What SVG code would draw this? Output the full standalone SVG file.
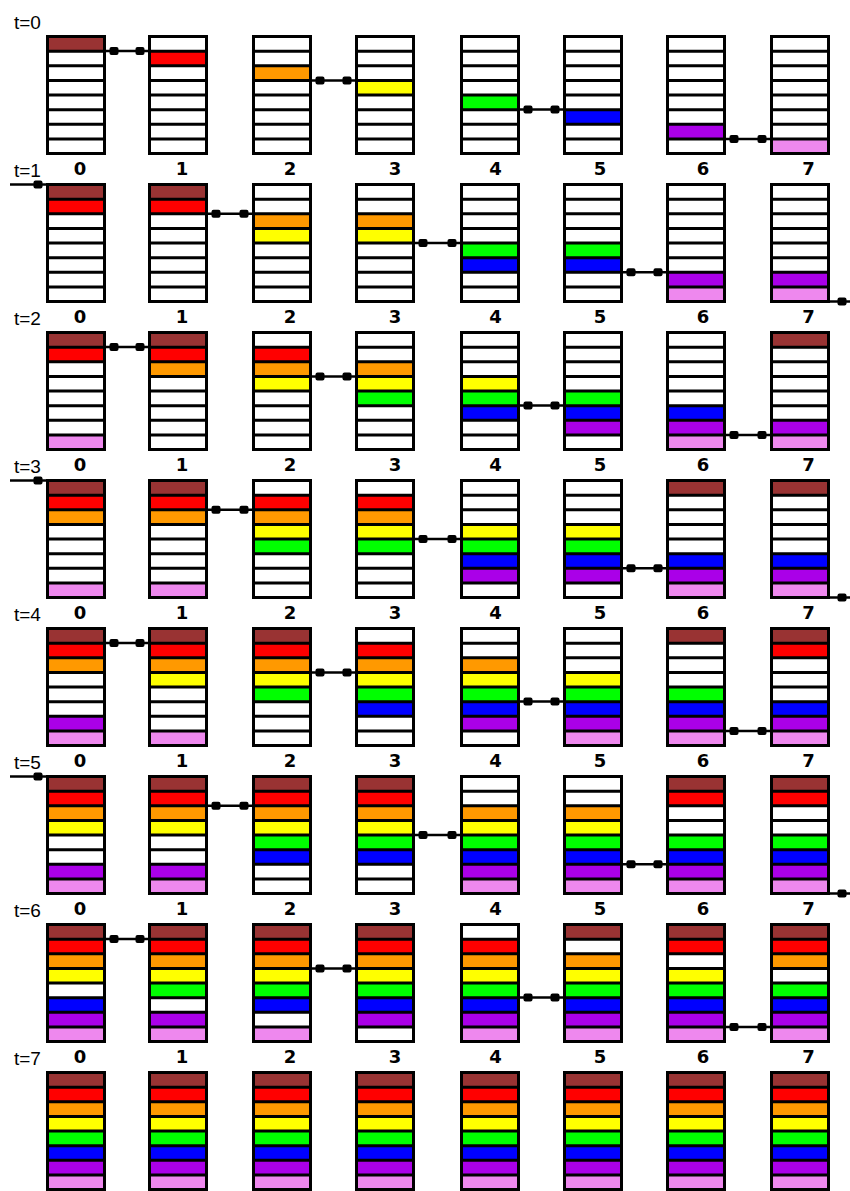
<svg xmlns="http://www.w3.org/2000/svg" xmlns:xlink="http://www.w3.org/1999/xlink" width="850" height="1191" viewBox="0 0 850 1191">
<style>
.tl{font-family:"Liberation Sans",Arial,sans-serif;font-size:19px;fill:#000}
.nl{font-family:"DejaVu Sans","Liberation Sans",sans-serif;font-size:18px;font-weight:bold;fill:#000;text-anchor:middle}
.cn{stroke:#000;stroke-width:2.5;fill:none;marker-start:url(#sq);marker-end:url(#sq)}
.ce{stroke:#000;stroke-width:2.5;fill:none;marker-end:url(#sq)}
</style>
<defs>
<marker id="sq" viewBox="-14 -5 14 10" markerWidth="14" markerHeight="10" refX="0" refY="0" orient="auto-start-reverse" markerUnits="userSpaceOnUse"><rect x="-12.5" y="-4" width="9" height="8" rx="2" fill="#000"/></marker>
<rect id="k0" x="1.5" y="1.5" width="57" height="14.625" fill="#993333"/>
<rect id="k1" x="1.5" y="16.125" width="57" height="14.625" fill="#ff0000"/>
<rect id="k2" x="1.5" y="30.75" width="57" height="14.625" fill="#ff9900"/>
<rect id="k3" x="1.5" y="45.375" width="57" height="14.625" fill="#ffff00"/>
<rect id="k4" x="1.5" y="60" width="57" height="14.625" fill="#00ff00"/>
<rect id="k5" x="1.5" y="74.625" width="57" height="14.625" fill="#0000ff"/>
<rect id="k6" x="1.5" y="89.25" width="57" height="14.625" fill="#aa00e8"/>
<rect id="k7" x="1.5" y="103.875" width="57" height="14.625" fill="#ee88ee"/>
<g id="f" fill="none" stroke="#000" stroke-width="3"><rect x="1.5" y="1.5" width="57" height="117"/><path d="M1.5 16.125H58.5M1.5 30.75H58.5M1.5 45.375H58.5M1.5 60H58.5M1.5 74.625H58.5M1.5 89.25H58.5M1.5 103.875H58.5"/></g>
</defs>
<rect width="850" height="1191" fill="#fff"/>
<g id="labels">
<text class="tl" x="14" y="29">t=0</text>
<text class="tl" x="14" y="177">t=1</text>
<text class="tl" x="14" y="325">t=2</text>
<text class="tl" x="14" y="473">t=3</text>
<text class="tl" x="14" y="621">t=4</text>
<text class="tl" x="14" y="769">t=5</text>
<text class="tl" x="14" y="917">t=6</text>
<text class="tl" x="14" y="1065">t=7</text>
<g id="nums0"><text class="nl" x="80" y="175">0</text><text class="nl" x="182" y="175">1</text><text class="nl" x="290" y="175">2</text><text class="nl" x="395" y="175">3</text><text class="nl" x="495.5" y="175">4</text><text class="nl" x="600" y="175">5</text><text class="nl" x="703" y="175">6</text><text class="nl" x="808.5" y="175">7</text></g>
<g id="nums1"><text class="nl" x="80" y="323">0</text><text class="nl" x="182" y="323">1</text><text class="nl" x="290" y="323">2</text><text class="nl" x="395" y="323">3</text><text class="nl" x="495.5" y="323">4</text><text class="nl" x="600" y="323">5</text><text class="nl" x="703" y="323">6</text><text class="nl" x="808.5" y="323">7</text></g>
<g id="nums2"><text class="nl" x="80" y="471">0</text><text class="nl" x="182" y="471">1</text><text class="nl" x="290" y="471">2</text><text class="nl" x="395" y="471">3</text><text class="nl" x="495.5" y="471">4</text><text class="nl" x="600" y="471">5</text><text class="nl" x="703" y="471">6</text><text class="nl" x="808.5" y="471">7</text></g>
<g id="nums3"><text class="nl" x="80" y="619">0</text><text class="nl" x="182" y="619">1</text><text class="nl" x="290" y="619">2</text><text class="nl" x="395" y="619">3</text><text class="nl" x="495.5" y="619">4</text><text class="nl" x="600" y="619">5</text><text class="nl" x="703" y="619">6</text><text class="nl" x="808.5" y="619">7</text></g>
<g id="nums4"><text class="nl" x="80" y="767">0</text><text class="nl" x="182" y="767">1</text><text class="nl" x="290" y="767">2</text><text class="nl" x="395" y="767">3</text><text class="nl" x="495.5" y="767">4</text><text class="nl" x="600" y="767">5</text><text class="nl" x="703" y="767">6</text><text class="nl" x="808.5" y="767">7</text></g>
<g id="nums5"><text class="nl" x="80" y="915">0</text><text class="nl" x="182" y="915">1</text><text class="nl" x="290" y="915">2</text><text class="nl" x="395" y="915">3</text><text class="nl" x="495.5" y="915">4</text><text class="nl" x="600" y="915">5</text><text class="nl" x="703" y="915">6</text><text class="nl" x="808.5" y="915">7</text></g>
<g id="nums6"><text class="nl" x="80" y="1063">0</text><text class="nl" x="182" y="1063">1</text><text class="nl" x="290" y="1063">2</text><text class="nl" x="395" y="1063">3</text><text class="nl" x="495.5" y="1063">4</text><text class="nl" x="600" y="1063">5</text><text class="nl" x="703" y="1063">6</text><text class="nl" x="808.5" y="1063">7</text></g>
</g>
<!-- t=0 -->
<g id="n0_0" transform="translate(46,35)"><use href="#k0"/><use href="#f"/></g>
<g id="n0_1" transform="translate(148,35)"><use href="#k1"/><use href="#f"/></g>
<g id="n0_2" transform="translate(252,35)"><use href="#k2"/><use href="#f"/></g>
<g id="n0_3" transform="translate(355,35)"><use href="#k3"/><use href="#f"/></g>
<g id="n0_4" transform="translate(460,35)"><use href="#k4"/><use href="#f"/></g>
<g id="n0_5" transform="translate(563,35)"><use href="#k5"/><use href="#f"/></g>
<g id="n0_6" transform="translate(666,35)"><use href="#k6"/><use href="#f"/></g>
<g id="n0_7" transform="translate(770,35)"><use href="#k7"/><use href="#f"/></g>
<!-- t=1 -->
<g id="n1_0" transform="translate(46,183)"><use href="#k0"/><use href="#k1"/><use href="#f"/></g>
<g id="n1_1" transform="translate(148,183)"><use href="#k0"/><use href="#k1"/><use href="#f"/></g>
<g id="n1_2" transform="translate(252,183)"><use href="#k2"/><use href="#k3"/><use href="#f"/></g>
<g id="n1_3" transform="translate(355,183)"><use href="#k2"/><use href="#k3"/><use href="#f"/></g>
<g id="n1_4" transform="translate(460,183)"><use href="#k4"/><use href="#k5"/><use href="#f"/></g>
<g id="n1_5" transform="translate(563,183)"><use href="#k4"/><use href="#k5"/><use href="#f"/></g>
<g id="n1_6" transform="translate(666,183)"><use href="#k6"/><use href="#k7"/><use href="#f"/></g>
<g id="n1_7" transform="translate(770,183)"><use href="#k6"/><use href="#k7"/><use href="#f"/></g>
<!-- t=2 -->
<g id="n2_0" transform="translate(46,331)"><use href="#k0"/><use href="#k1"/><use href="#k7"/><use href="#f"/></g>
<g id="n2_1" transform="translate(148,331)"><use href="#k0"/><use href="#k1"/><use href="#k2"/><use href="#f"/></g>
<g id="n2_2" transform="translate(252,331)"><use href="#k1"/><use href="#k2"/><use href="#k3"/><use href="#f"/></g>
<g id="n2_3" transform="translate(355,331)"><use href="#k2"/><use href="#k3"/><use href="#k4"/><use href="#f"/></g>
<g id="n2_4" transform="translate(460,331)"><use href="#k3"/><use href="#k4"/><use href="#k5"/><use href="#f"/></g>
<g id="n2_5" transform="translate(563,331)"><use href="#k4"/><use href="#k5"/><use href="#k6"/><use href="#f"/></g>
<g id="n2_6" transform="translate(666,331)"><use href="#k5"/><use href="#k6"/><use href="#k7"/><use href="#f"/></g>
<g id="n2_7" transform="translate(770,331)"><use href="#k0"/><use href="#k6"/><use href="#k7"/><use href="#f"/></g>
<!-- t=3 -->
<g id="n3_0" transform="translate(46,479)"><use href="#k0"/><use href="#k1"/><use href="#k2"/><use href="#k7"/><use href="#f"/></g>
<g id="n3_1" transform="translate(148,479)"><use href="#k0"/><use href="#k1"/><use href="#k2"/><use href="#k7"/><use href="#f"/></g>
<g id="n3_2" transform="translate(252,479)"><use href="#k1"/><use href="#k2"/><use href="#k3"/><use href="#k4"/><use href="#f"/></g>
<g id="n3_3" transform="translate(355,479)"><use href="#k1"/><use href="#k2"/><use href="#k3"/><use href="#k4"/><use href="#f"/></g>
<g id="n3_4" transform="translate(460,479)"><use href="#k3"/><use href="#k4"/><use href="#k5"/><use href="#k6"/><use href="#f"/></g>
<g id="n3_5" transform="translate(563,479)"><use href="#k3"/><use href="#k4"/><use href="#k5"/><use href="#k6"/><use href="#f"/></g>
<g id="n3_6" transform="translate(666,479)"><use href="#k0"/><use href="#k5"/><use href="#k6"/><use href="#k7"/><use href="#f"/></g>
<g id="n3_7" transform="translate(770,479)"><use href="#k0"/><use href="#k5"/><use href="#k6"/><use href="#k7"/><use href="#f"/></g>
<!-- t=4 -->
<g id="n4_0" transform="translate(46,627)"><use href="#k0"/><use href="#k1"/><use href="#k2"/><use href="#k6"/><use href="#k7"/><use href="#f"/></g>
<g id="n4_1" transform="translate(148,627)"><use href="#k0"/><use href="#k1"/><use href="#k2"/><use href="#k3"/><use href="#k7"/><use href="#f"/></g>
<g id="n4_2" transform="translate(252,627)"><use href="#k0"/><use href="#k1"/><use href="#k2"/><use href="#k3"/><use href="#k4"/><use href="#f"/></g>
<g id="n4_3" transform="translate(355,627)"><use href="#k1"/><use href="#k2"/><use href="#k3"/><use href="#k4"/><use href="#k5"/><use href="#f"/></g>
<g id="n4_4" transform="translate(460,627)"><use href="#k2"/><use href="#k3"/><use href="#k4"/><use href="#k5"/><use href="#k6"/><use href="#f"/></g>
<g id="n4_5" transform="translate(563,627)"><use href="#k3"/><use href="#k4"/><use href="#k5"/><use href="#k6"/><use href="#k7"/><use href="#f"/></g>
<g id="n4_6" transform="translate(666,627)"><use href="#k0"/><use href="#k4"/><use href="#k5"/><use href="#k6"/><use href="#k7"/><use href="#f"/></g>
<g id="n4_7" transform="translate(770,627)"><use href="#k0"/><use href="#k1"/><use href="#k5"/><use href="#k6"/><use href="#k7"/><use href="#f"/></g>
<!-- t=5 -->
<g id="n5_0" transform="translate(46,775)"><use href="#k0"/><use href="#k1"/><use href="#k2"/><use href="#k3"/><use href="#k6"/><use href="#k7"/><use href="#f"/></g>
<g id="n5_1" transform="translate(148,775)"><use href="#k0"/><use href="#k1"/><use href="#k2"/><use href="#k3"/><use href="#k6"/><use href="#k7"/><use href="#f"/></g>
<g id="n5_2" transform="translate(252,775)"><use href="#k0"/><use href="#k1"/><use href="#k2"/><use href="#k3"/><use href="#k4"/><use href="#k5"/><use href="#f"/></g>
<g id="n5_3" transform="translate(355,775)"><use href="#k0"/><use href="#k1"/><use href="#k2"/><use href="#k3"/><use href="#k4"/><use href="#k5"/><use href="#f"/></g>
<g id="n5_4" transform="translate(460,775)"><use href="#k2"/><use href="#k3"/><use href="#k4"/><use href="#k5"/><use href="#k6"/><use href="#k7"/><use href="#f"/></g>
<g id="n5_5" transform="translate(563,775)"><use href="#k2"/><use href="#k3"/><use href="#k4"/><use href="#k5"/><use href="#k6"/><use href="#k7"/><use href="#f"/></g>
<g id="n5_6" transform="translate(666,775)"><use href="#k0"/><use href="#k1"/><use href="#k4"/><use href="#k5"/><use href="#k6"/><use href="#k7"/><use href="#f"/></g>
<g id="n5_7" transform="translate(770,775)"><use href="#k0"/><use href="#k1"/><use href="#k4"/><use href="#k5"/><use href="#k6"/><use href="#k7"/><use href="#f"/></g>
<!-- t=6 -->
<g id="n6_0" transform="translate(46,923)"><use href="#k0"/><use href="#k1"/><use href="#k2"/><use href="#k3"/><use href="#k5"/><use href="#k6"/><use href="#k7"/><use href="#f"/></g>
<g id="n6_1" transform="translate(148,923)"><use href="#k0"/><use href="#k1"/><use href="#k2"/><use href="#k3"/><use href="#k4"/><use href="#k6"/><use href="#k7"/><use href="#f"/></g>
<g id="n6_2" transform="translate(252,923)"><use href="#k0"/><use href="#k1"/><use href="#k2"/><use href="#k3"/><use href="#k4"/><use href="#k5"/><use href="#k7"/><use href="#f"/></g>
<g id="n6_3" transform="translate(355,923)"><use href="#k0"/><use href="#k1"/><use href="#k2"/><use href="#k3"/><use href="#k4"/><use href="#k5"/><use href="#k6"/><use href="#f"/></g>
<g id="n6_4" transform="translate(460,923)"><use href="#k1"/><use href="#k2"/><use href="#k3"/><use href="#k4"/><use href="#k5"/><use href="#k6"/><use href="#k7"/><use href="#f"/></g>
<g id="n6_5" transform="translate(563,923)"><use href="#k0"/><use href="#k2"/><use href="#k3"/><use href="#k4"/><use href="#k5"/><use href="#k6"/><use href="#k7"/><use href="#f"/></g>
<g id="n6_6" transform="translate(666,923)"><use href="#k0"/><use href="#k1"/><use href="#k3"/><use href="#k4"/><use href="#k5"/><use href="#k6"/><use href="#k7"/><use href="#f"/></g>
<g id="n6_7" transform="translate(770,923)"><use href="#k0"/><use href="#k1"/><use href="#k2"/><use href="#k4"/><use href="#k5"/><use href="#k6"/><use href="#k7"/><use href="#f"/></g>
<!-- t=7 -->
<g id="n7_0" transform="translate(46,1071)"><use href="#k0"/><use href="#k1"/><use href="#k2"/><use href="#k3"/><use href="#k4"/><use href="#k5"/><use href="#k6"/><use href="#k7"/><use href="#f"/></g>
<g id="n7_1" transform="translate(148,1071)"><use href="#k0"/><use href="#k1"/><use href="#k2"/><use href="#k3"/><use href="#k4"/><use href="#k5"/><use href="#k6"/><use href="#k7"/><use href="#f"/></g>
<g id="n7_2" transform="translate(252,1071)"><use href="#k0"/><use href="#k1"/><use href="#k2"/><use href="#k3"/><use href="#k4"/><use href="#k5"/><use href="#k6"/><use href="#k7"/><use href="#f"/></g>
<g id="n7_3" transform="translate(355,1071)"><use href="#k0"/><use href="#k1"/><use href="#k2"/><use href="#k3"/><use href="#k4"/><use href="#k5"/><use href="#k6"/><use href="#k7"/><use href="#f"/></g>
<g id="n7_4" transform="translate(460,1071)"><use href="#k0"/><use href="#k1"/><use href="#k2"/><use href="#k3"/><use href="#k4"/><use href="#k5"/><use href="#k6"/><use href="#k7"/><use href="#f"/></g>
<g id="n7_5" transform="translate(563,1071)"><use href="#k0"/><use href="#k1"/><use href="#k2"/><use href="#k3"/><use href="#k4"/><use href="#k5"/><use href="#k6"/><use href="#k7"/><use href="#f"/></g>
<g id="n7_6" transform="translate(666,1071)"><use href="#k0"/><use href="#k1"/><use href="#k2"/><use href="#k3"/><use href="#k4"/><use href="#k5"/><use href="#k6"/><use href="#k7"/><use href="#f"/></g>
<g id="n7_7" transform="translate(770,1071)"><use href="#k0"/><use href="#k1"/><use href="#k2"/><use href="#k3"/><use href="#k4"/><use href="#k5"/><use href="#k6"/><use href="#k7"/><use href="#f"/></g>
<g id="connectors">
<!-- even steps -->
<path class="cn" d="M106 51.1H148"/><path class="cn" d="M312 80.4H355"/><path class="cn" d="M520 109.6H563"/><path class="cn" d="M726 138.9H770"/>
<path class="cn" d="M106 347.1H148"/><path class="cn" d="M312 376.4H355"/><path class="cn" d="M520 405.6H563"/><path class="cn" d="M726 434.9H770"/>
<path class="cn" d="M106 643.1H148"/><path class="cn" d="M312 672.4H355"/><path class="cn" d="M520 701.6H563"/><path class="cn" d="M726 730.9H770"/>
<path class="cn" d="M106 939.1H148"/><path class="cn" d="M312 968.4H355"/><path class="cn" d="M520 997.6H563"/><path class="cn" d="M726 1026.9H770"/>
<!-- odd steps -->
<path class="ce" d="M10 184.5H46"/><path class="cn" d="M208 213.8H252"/><path class="cn" d="M415 243H460"/><path class="cn" d="M623 272.3H666"/><path class="ce" d="M830 301.5H850"/>
<path class="ce" d="M10 480.5H46"/><path class="cn" d="M208 509.8H252"/><path class="cn" d="M415 539H460"/><path class="cn" d="M623 568.3H666"/><path class="ce" d="M830 597.5H850"/>
<path class="ce" d="M10 776.5H46"/><path class="cn" d="M208 805.8H252"/><path class="cn" d="M415 835H460"/><path class="cn" d="M623 864.3H666"/><path class="ce" d="M830 893.5H850"/>
</g>
</svg>
